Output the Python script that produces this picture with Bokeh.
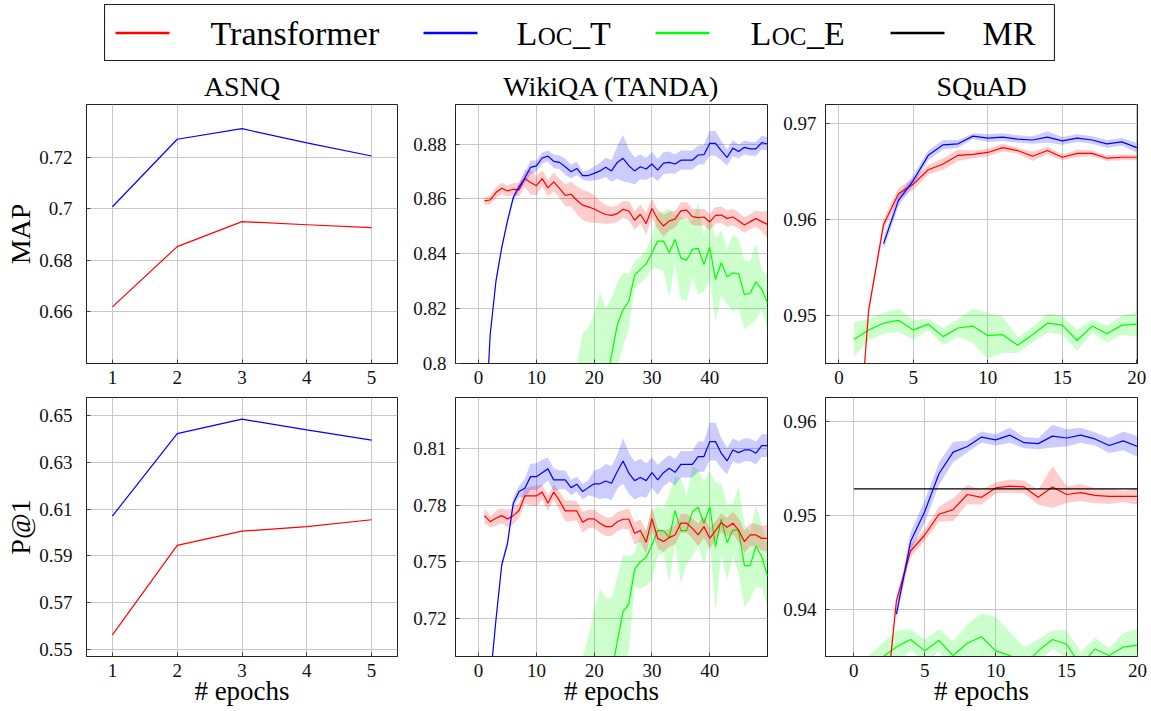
import math
from bokeh.plotting import figure
from bokeh.layouts import column, row
from bokeh.models import Range1d, FixedTicker, Spacer, CustomJSTickFormatter
from bokeh.embed import file_html
from bokeh.resources import INLINE
from bokeh.core.properties import value

nan = float("nan")
FONT = "Liberation Serif"

# ---------------- series / colours ----------------
series_names = ["Transformer", "Loc_T", "Loc_E", "MR"]
series_colors = ["#ff0000", "#0000ff", "#00ff00", "#000000"]
COL = dict(zip(series_names, series_colors))

# ---------------- ASNQ ----------------
asnq_epochs = [1, 2, 3, 4, 5]
asnq_map_tr = [0.6618, 0.6852, 0.6949, 0.6937, 0.6926]
asnq_map_lt = [0.7007, 0.7269, 0.7310, 0.7255, 0.7204]
asnq_p1_tr = [0.5562, 0.5945, 0.6006, 0.6026, 0.6055]
asnq_p1_lt = [0.6071, 0.6424, 0.6486, 0.6440, 0.6396]

# ---------------- WikiQA (TANDA) ----------------
wq_epochs = list(range(1, 51))
wq_map_tr = [0.8593, 0.8596, 0.8623, 0.8639, 0.8629, 0.8635, 0.8633, 0.8674, 0.8660, 0.8648,
             0.8674, 0.8640, 0.8662, 0.8638, 0.8613, 0.8617, 0.8595, 0.8577, 0.8571, 0.8563,
             0.8552, 0.8543, 0.8540, 0.8546, 0.8562, 0.8556, 0.8522, 0.8544, 0.8510, 0.8565,
             0.8526, 0.8501, 0.8520, 0.8526, 0.8556, 0.8559, 0.8535, 0.8532, 0.8534, 0.8516,
             0.8540, 0.8541, 0.8529, 0.8534, 0.8520, 0.8505, 0.8517, 0.8528, 0.8517, 0.8507]
wq_map_tr_sd = [0.0015, 0.0015, 0.0020, 0.0020, 0.0020, 0.0022, 0.0025, 0.0030, 0.0045, 0.0035,
                0.0030, 0.0030, 0.0035, 0.0035, 0.0040, 0.0045, 0.0050, 0.0055, 0.0055, 0.0050,
                0.0040, 0.0035, 0.0030, 0.0030, 0.0030, 0.0035, 0.0035, 0.0035, 0.0040, 0.0035,
                0.0035, 0.0040, 0.0035, 0.0030, 0.0030, 0.0030, 0.0030, 0.0030, 0.0030, 0.0030,
                0.0030, 0.0030, 0.0030, 0.0030, 0.0030, 0.0028, 0.0028, 0.0030, 0.0035, 0.0050]
wq_map_lt = [0.7700, 0.8105, 0.8300, 0.8422, 0.8520, 0.8605, 0.8644, 0.8676, 0.8715, 0.8720,
             0.8749, 0.8756, 0.8737, 0.8733, 0.8717, 0.8699, 0.8711, 0.8685, 0.8685, 0.8693,
             0.8702, 0.8715, 0.8702, 0.8733, 0.8748, 0.8721, 0.8702, 0.8717, 0.8709, 0.8727,
             0.8705, 0.8730, 0.8733, 0.8727, 0.8741, 0.8741, 0.8741, 0.8760, 0.8761, 0.8802,
             0.8802, 0.8776, 0.8751, 0.8785, 0.8773, 0.8788, 0.8782, 0.8782, 0.8805, 0.8800]
wq_map_lt_sd = [0.0010, 0.0010, 0.0010, 0.0010, 0.0010, 0.0012, 0.0015, 0.0020, 0.0025, 0.0020,
                0.0020, 0.0020, 0.0025, 0.0025, 0.0030, 0.0025, 0.0025, 0.0015, 0.0020, 0.0025,
                0.0030, 0.0035, 0.0040, 0.0060, 0.0085, 0.0060, 0.0050, 0.0045, 0.0040, 0.0045,
                0.0040, 0.0040, 0.0040, 0.0035, 0.0035, 0.0035, 0.0035, 0.0035, 0.0035, 0.0045,
                0.0045, 0.0035, 0.0030, 0.0030, 0.0025, 0.0025, 0.0025, 0.0025, 0.0025, 0.0025]
wq_map_le = [0.700, 0.705, 0.712, 0.718, 0.724, 0.730, 0.736, 0.742, 0.747, 0.752,
             0.756, 0.760, 0.763, 0.766, 0.768, 0.769, 0.770, 0.775, 0.778, 0.782,
             0.788, 0.792, 0.8030, 0.8141, 0.8196, 0.8227, 0.8322, 0.8343, 0.8363, 0.8404,
             0.8446, 0.8446, 0.8404, 0.8452, 0.8385, 0.8376, 0.8416, 0.8420, 0.8361, 0.8424,
             0.8306, 0.8367, 0.8316, 0.8330, 0.8327, 0.8251, 0.8257, 0.8298, 0.8270, 0.8221]
wq_map_le_sd = [0.025, 0.025, 0.025, 0.025, 0.025, 0.025, 0.025, 0.025, 0.025, 0.025,
                0.025, 0.025, 0.025, 0.025, 0.025, 0.025, 0.030, 0.036, 0.035, 0.036,
                0.038, 0.028, 0.021, 0.0155, 0.0135, 0.010, 0.005, 0.005, 0.005, 0.006,
                0.010, 0.011, 0.016, 0.009, 0.015, 0.0148, 0.0104, 0.0168, 0.010, 0.012,
                0.015, 0.012, 0.010, 0.014, 0.0128, 0.0125, 0.0116, 0.014, 0.0073, 0.010]

wq_p1_tr = [0.7744, 0.7712, 0.7730, 0.7744, 0.7727, 0.7744, 0.7771, 0.7848, 0.7848, 0.7848,
            0.7869, 0.7809, 0.7869, 0.7823, 0.7769, 0.7769, 0.7769, 0.7709, 0.7727, 0.7727,
            0.7704, 0.7686, 0.7686, 0.7712, 0.7725, 0.7725, 0.7651, 0.7665, 0.7603, 0.7728,
            0.7624, 0.7607, 0.7628, 0.7642, 0.7704, 0.7704, 0.7677, 0.7642, 0.7686, 0.7624,
            0.7665, 0.7707, 0.7683, 0.7704, 0.7668, 0.7607, 0.7642, 0.7642, 0.7624, 0.7624]
wq_p1_tr_sd = [0.0040, 0.0030, 0.0040, 0.0040, 0.0045, 0.0045, 0.0040, 0.0040, 0.0050, 0.0055,
               0.0040, 0.0040, 0.0040, 0.0050, 0.0055, 0.0055, 0.0050, 0.0055, 0.0050, 0.0050,
               0.0050, 0.0050, 0.0050, 0.0050, 0.0050, 0.0055, 0.0060, 0.0060, 0.0060, 0.0060,
               0.0055, 0.0055, 0.0050, 0.0050, 0.0050, 0.0050, 0.0055, 0.0060, 0.0060, 0.0055,
               0.0050, 0.0050, 0.0050, 0.0060, 0.0065, 0.0060, 0.0060, 0.0060, 0.0065, 0.0070]
wq_p1_lt = [0.6500, 0.6870, 0.7193, 0.7483, 0.7598, 0.7810, 0.7871, 0.7889, 0.7950, 0.7950,
            0.7971, 0.7991, 0.7933, 0.7933, 0.7933, 0.7892, 0.7910, 0.7871, 0.7892, 0.7912,
            0.7912, 0.7927, 0.7915, 0.7977, 0.8033, 0.7968, 0.7929, 0.7945, 0.7929, 0.7971,
            0.7933, 0.7971, 0.7994, 0.7973, 0.8015, 0.8015, 0.8015, 0.8056, 0.8056, 0.8135,
            0.8135, 0.8074, 0.8033, 0.8091, 0.8077, 0.8091, 0.8091, 0.8074, 0.8114, 0.8114]
wq_p1_lt_sd = [0.002, 0.002, 0.002, 0.002, 0.002, 0.003, 0.003, 0.005, 0.007, 0.007,
               0.007, 0.006, 0.006, 0.005, 0.005, 0.004, 0.004, 0.004, 0.004, 0.007,
               0.008, 0.009, 0.009, 0.009, 0.012, 0.011, 0.010, 0.010, 0.009, 0.008,
               0.008, 0.007, 0.007, 0.007, 0.007, 0.007, 0.007, 0.008, 0.008, 0.010,
               0.010, 0.008, 0.007, 0.006, 0.006, 0.006, 0.006, 0.006, 0.006, 0.006]
wq_p1_le = [0.560, 0.565, 0.570, 0.576, 0.582, 0.588, 0.594, 0.600, 0.606, 0.612,
            0.618, 0.624, 0.630, 0.635, 0.640, 0.643, 0.645, 0.650, 0.655, 0.665,
            0.675, 0.680, 0.6906, 0.7080, 0.7237, 0.7277, 0.7461, 0.7501, 0.7524, 0.7589,
            0.7665, 0.7665, 0.7628, 0.7771, 0.7665, 0.7665, 0.7765, 0.7788, 0.7704, 0.7792,
            0.7580, 0.7725, 0.7601, 0.7668, 0.7668, 0.7480, 0.7480, 0.7584, 0.7527, 0.7425]
wq_p1_le_sd = [0.040, 0.040, 0.040, 0.040, 0.040, 0.040, 0.040, 0.040, 0.040, 0.040,
               0.040, 0.040, 0.040, 0.040, 0.040, 0.040, 0.045, 0.050, 0.055, 0.060,
               0.061, 0.051, 0.040, 0.034, 0.030, 0.025, 0.009, 0.014, 0.015, 0.0185,
               0.013, 0.012, 0.023, 0.0176, 0.028, 0.018, 0.024, 0.020, 0.022, 0.0185,
               0.034, 0.0185, 0.020, 0.014, 0.023, 0.022, 0.0176, 0.0216, 0.0167, 0.0167]

# ---------------- SQuAD ----------------
sq_epochs = list(range(1, 21))
sq_map_tr = [0.9300, 0.9506, 0.9595, 0.9627, 0.9637, 0.9652, 0.9658, 0.9667, 0.9668, 0.9670,
             0.9675, 0.9672, 0.9666, 0.9672, 0.9665, 0.9669, 0.9669, 0.9664, 0.9665, 0.9665]
sq_map_tr_sd = [0.0005, 0.0005, 0.0006, 0.0006, 0.0006, 0.0005, 0.0006, 0.0006, 0.0004, 0.0004,
                0.0004, 0.0003, 0.0005, 0.0004, 0.0003, 0.0004, 0.0003, 0.0003, 0.0003, 0.0003]
sq_map_lt = [nan, nan, 0.9575, 0.9620, 0.9641, 0.9667, 0.9678, 0.9679, 0.9687, 0.9685,
             0.9686, 0.9684, 0.9683, 0.9686, 0.9682, 0.9685, 0.9683, 0.9679, 0.9681, 0.9675]
sq_map_lt_sd = [nan, nan, 0.0006, 0.0006, 0.0005, 0.0005, 0.0005, 0.0004, 0.0003, 0.0004,
                0.0004, 0.0004, 0.0004, 0.0006, 0.0004, 0.0004, 0.0004, 0.0004, 0.0004, 0.0005]
sq_map_le = [0.9475, 0.9485, 0.9492, 0.9495, 0.9485, 0.9491, 0.9478, 0.9487, 0.9489, 0.9479,
             0.9480, 0.9469, 0.9480, 0.9492, 0.9490, 0.9474, 0.9489, 0.9481, 0.9490, 0.9491]
sq_map_le_sd = [0.0018, 0.0011, 0.0011, 0.0012, 0.0010, 0.0006, 0.0009, 0.0009, 0.0018, 0.0024,
                0.0019, 0.0008, 0.0008, 0.0010, 0.0010, 0.0011, 0.0007, 0.0009, 0.0010, 0.0013]

sq_p1_tr = [0.9150, 0.9260, 0.9409, 0.9462, 0.9479, 0.9501, 0.9506, 0.9522, 0.9519, 0.9529,
            0.9531, 0.9530, 0.9519, 0.9530, 0.9522, 0.9524, 0.9521, 0.9520, 0.9520, 0.9520]
sq_p1_tr_sd = [0.0005, 0.0005, 0.0005, 0.0007, 0.0006, 0.0008, 0.0012, 0.0010, 0.0008, 0.0006,
               0.0007, 0.0007, 0.0008, 0.0022, 0.0009, 0.0009, 0.0008, 0.0008, 0.0006, 0.0009]
sq_p1_lt = [nan, nan, 0.9395, 0.9472, 0.9504, 0.9544, 0.9567, 0.9573, 0.9583, 0.9580,
            0.9585, 0.9577, 0.9576, 0.9584, 0.9582, 0.9585, 0.9581, 0.9574, 0.9579, 0.9573]
sq_p1_lt_sd = [nan, nan, 0.0006, 0.0010, 0.0012, 0.0012, 0.0011, 0.0006, 0.0006, 0.0006,
               0.0008, 0.0006, 0.0006, 0.0012, 0.0009, 0.0008, 0.0007, 0.0008, 0.0010, 0.0011]
sq_p1_le = [0.9330, 0.9349, 0.9360, 0.9368, 0.9356, 0.9367, 0.9351, 0.9364, 0.9371, 0.9356,
            0.9351, 0.9340, 0.9356, 0.9368, 0.9363, 0.9340, 0.9358, 0.9351, 0.9360, 0.9362]
sq_p1_le_sd = [0.0020, 0.0015, 0.0018, 0.0011, 0.0012, 0.0012, 0.0015, 0.0020, 0.0025, 0.0036,
               0.0025, 0.0020, 0.0012, 0.0010, 0.0015, 0.0015, 0.0012, 0.0008, 0.0015, 0.0017]
sq_p1_mr_x = [0, 20]
sq_p1_mr = 0.9528

# ---------------- axis ticks ----------------
asnq_xticks = [1, 2, 3, 4, 5]
wq_xticks = [0, 10, 20, 30, 40]
sq_xticks = [0, 5, 10, 15, 20]
asnq_map_yticks = [0.66, 0.68, 0.7, 0.72]
asnq_p1_yticks = [0.55, 0.57, 0.59, 0.61, 0.63, 0.65]
wq_map_yticks = [0.8, 0.82, 0.84, 0.86, 0.88]
wq_p1_yticks = [0.72, 0.75, 0.78, 0.81]
sq_map_yticks = [0.95, 0.96, 0.97]
sq_p1_yticks = [0.94, 0.95, 0.96]

col_titles = ["ASNQ", "WikiQA (TANDA)", "SQuAD"]
row_labels = ["MAP", "P@1"]
x_label = "# epochs"

fmt = CustomJSTickFormatter(code="return tick.toString();")


def panel(width, height, borders, xr, yr, xticks, yticks, title=None, ylabel=None,
          xlabel=None, ystandoff=9):
    left, right, top, bottom = borders
    p = figure(width=width, height=height, x_range=Range1d(*xr), y_range=Range1d(*yr),
               output_backend="svg", toolbar_location=None,
               min_border_left=left, min_border_right=right,
               min_border_top=top, min_border_bottom=bottom)
    p.background_fill_color = "white"
    p.border_fill_color = "white"
    p.outline_line_color = "#222222"
    p.outline_line_width = 1
    p.outline_line_alpha = 1
    for ax, ticks in ((p.xaxis[0], xticks), (p.yaxis[0], yticks)):
        ax.ticker = FixedTicker(ticks=ticks)
        ax.formatter = fmt
        ax.major_label_text_font = FONT
        ax.major_label_text_font_size = "19px"
        ax.major_label_text_color = "#111111"
        ax.major_tick_in = 4
        ax.major_tick_out = 0
        ax.major_tick_line_color = "#444444"
        ax.minor_tick_line_color = None
        ax.axis_line_color = "#222222"
        ax.axis_label_text_font = FONT
        ax.axis_label_text_font_style = "normal"
        ax.axis_label_text_font_size = "28px"
        ax.axis_label_text_color = "black"
    p.xaxis[0].major_label_standoff = 7
    p.yaxis[0].major_label_standoff = ystandoff
    p.xgrid.grid_line_color = "#c8c8c8"
    p.ygrid.grid_line_color = "#c8c8c8"
    p.xgrid.grid_line_width = 1
    p.ygrid.grid_line_width = 1
    if title:
        p.title.text = title
        p.title.text_font = FONT
        p.title.text_font_size = "28px"
        p.title.text_font_style = "normal"
        p.title.text_color = "black"
        p.title.align = "center"
        p.title.standoff = 5
    if ylabel:
        p.yaxis[0].axis_label = ylabel
        p.yaxis[0].axis_label_standoff = 0
    if xlabel:
        p.xaxis[0].axis_label = xlabel
        p.xaxis[0].axis_label_text_font_size = "27px"
        p.xaxis[0].axis_label_standoff = -4
    return p


def draw(p, xs, mean, sd, color):
    pts = [(x, m, s) for x, m, s in zip(xs, mean, sd if sd else [0] * len(mean))
           if not math.isnan(m)]
    x = [a for a, _, _ in pts]
    m = [b for _, b, _ in pts]
    if sd:
        lo = [b - c for _, b, c in pts]
        hi = [b + c for _, b, c in pts]
        p.varea(x=x, y1=lo, y2=hi, fill_color=color, fill_alpha=0.2)
    p.line(x=x, y=m, line_color=color, line_width=1.2)


# layout geometry (pixels); page has no margin, coordinates = screenshot pixels
R1H, R2H = 330, 319
B1 = (43, 28)
B2 = (6, 54)

f1 = panel(405, R1H, (86, 8) + B1, (0.6, 5.4), (0.6398, 0.7404), asnq_xticks, asnq_map_yticks,
           title=col_titles[0], ylabel=row_labels[0], ystandoff=14)
draw(f1, asnq_epochs, asnq_map_tr, None, COL["Transformer"])
draw(f1, asnq_epochs, asnq_map_lt, None, COL["Loc_T"])

f2 = panel(370, R1H, (50, 8) + B1, (-4, 50), (0.8, 0.8944), wq_xticks, wq_map_yticks,
           title=col_titles[1])
draw(f2, wq_epochs, wq_map_le, wq_map_le_sd, COL["Loc_E"])
draw(f2, wq_epochs, wq_map_tr, wq_map_tr_sd, COL["Transformer"])
draw(f2, wq_epochs, wq_map_lt, wq_map_lt_sd, COL["Loc_T"])

f3 = panel(376, R1H, (50, 14) + B1, (-0.9, 20.05), (0.945, 0.972), sq_xticks, sq_map_yticks,
           title=col_titles[2])
draw(f3, sq_epochs, sq_map_le, sq_map_le_sd, COL["Loc_E"])
draw(f3, sq_epochs, sq_map_tr, sq_map_tr_sd, COL["Transformer"])
draw(f3, sq_epochs, sq_map_lt, sq_map_lt_sd, COL["Loc_T"])

f4 = panel(405, R2H, (86, 8) + B2, (0.6, 5.4), (0.5469, 0.6579), asnq_xticks, asnq_p1_yticks,
           ylabel=row_labels[1], xlabel=x_label, ystandoff=14)
draw(f4, asnq_epochs, asnq_p1_tr, None, COL["Transformer"])
draw(f4, asnq_epochs, asnq_p1_lt, None, COL["Loc_T"])

f5 = panel(370, R2H, (50, 8) + B2, (-4, 50), (0.70, 0.8368), wq_xticks, wq_p1_yticks,
           xlabel=x_label)
draw(f5, wq_epochs, wq_p1_le, wq_p1_le_sd, COL["Loc_E"])
draw(f5, wq_epochs, wq_p1_tr, wq_p1_tr_sd, COL["Transformer"])
draw(f5, wq_epochs, wq_p1_lt, wq_p1_lt_sd, COL["Loc_T"])

f6 = panel(376, R2H, (50, 14) + B2, (-2, 20), (0.935, 0.9625), sq_xticks, sq_p1_yticks,
           xlabel=x_label)
draw(f6, sq_epochs, sq_p1_le, sq_p1_le_sd, COL["Loc_E"])
draw(f6, sq_epochs, sq_p1_tr, sq_p1_tr_sd, COL["Transformer"])
draw(f6, sq_epochs, sq_p1_lt, sq_p1_lt_sd, COL["Loc_T"])
f6.line(x=sq_p1_mr_x, y=[sq_p1_mr] * len(sq_p1_mr_x), line_color=COL["MR"], line_width=1.2)

# ---------------- legend box ----------------
LW, LH = 951, 57
leg = figure(width=LW, height=LH, x_range=Range1d(0, LW), y_range=Range1d(0, LH),
             x_axis_type=None, y_axis_type=None, output_backend="svg", toolbar_location=None,
             min_border=0)
leg.outline_line_color = "#222222"
leg.outline_line_width = 1.2
leg.grid.visible = False
line_x0 = [11, 319, 551, 786]
line_len = 54
text_x = [106, 412, 646, 878]
mid_y = 28.5
big = 34
small = 25
for name, color, lx, tx in zip(series_names, series_colors, line_x0, text_x):
    leg.line(x=[lx, lx + line_len], y=[mid_y, mid_y], line_color=color, line_width=2.6)
    if name.startswith("Loc_"):
        # small-caps rendering: L + OC (smaller) + _X, sharing one baseline
        parts = [("L", big), ("OC", small), ("_" + name[-1], big)]
        adv = [0.611 * big + 0.5, 1.389 * small + 0.5, 0]
        x = tx
        for (txt, fs), a in zip(parts, adv):
            yy = mid_y - 0.3375 * (big - fs)
            leg.text(x=[x], y=[yy], text=[txt], text_font=value(FONT),
                     text_font_size=value(f"{fs}px"), text_baseline="middle",
                     text_align="left", text_color="black")
            x += a
    else:
        leg.text(x=[tx], y=[mid_y], text=[name], text_font=value(FONT),
                 text_font_size=value(f"{big}px"), text_baseline="middle",
                 text_align="left", text_color="black")

layout = column(
    Spacer(width=10, height=4),
    row(Spacer(width=104, height=LH), leg),
    row(f1, f2, f3),
    row(f4, f5, f6),
)

open("out.html", "w").write(file_html(layout, INLINE))
